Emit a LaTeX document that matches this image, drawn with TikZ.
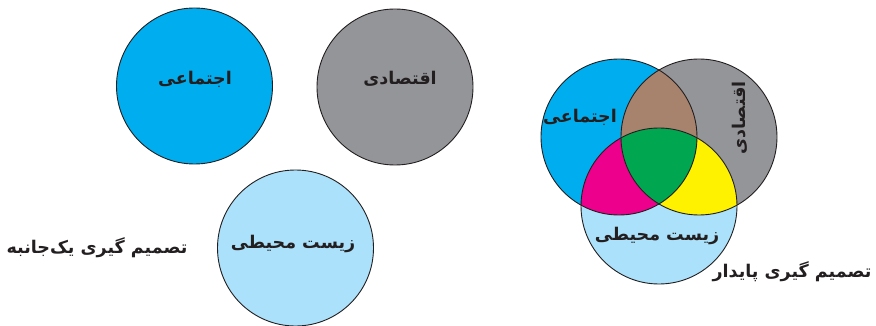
\documentclass[tikz,border=0pt]{standalone}
\usepackage{fontspec}
\newfontfamily\arabicfont[Script=Arabic]{DejaVu Sans}
\TeXXeTstate=1
\definecolor{cblue}{HTML}{00AEEF}
\definecolor{cgray}{HTML}{939598}
\definecolor{clight}{HTML}{ABE1FA}
\definecolor{cbrown}{HTML}{A7836D}
\definecolor{cmag}{HTML}{EC008C}
\definecolor{cyel}{HTML}{FFF200}
\definecolor{cgreen}{HTML}{00A650}
\definecolor{cline}{HTML}{231F20}
\begin{document}
\begin{tikzpicture}[x=1pt,y=-1pt]
\tikzset{
  setc/.style={circle, draw=cline, line width=0.9pt, minimum size=156pt, inner sep=0pt},
  lbl/.style={font=\arabicfont\bfseries\fontsize{17.5}{20}\selectfont, text=cline, inner sep=0pt},
  captxt/.style={font=\arabicfont\bfseries\fontsize{17.5}{20}\selectfont, text=cline, inner sep=0pt}
}
\useasboundingbox (0,0) rectangle (876,326);
% left: separate circles
\node[setc, fill=cblue] (s1) at (194.5,86) {};
\node[setc, fill=cgray] (e1) at (395,87) {};
\node[setc, fill=clight] (n1) at (295.5,248) {};
\node[lbl] (ls1) at (195,79) {\beginR اجتماعی\endR};
\node[lbl] (le1) at (400,79) {\beginR اقتصادی\endR};
\node[lbl] (ln1) at (293,244) {\beginR زیست محیطی\endR};
\node[captxt] (c1) at (97,248) {\beginR تصمیم گیری یک‌جانبه\endR};
% right: overlapping circles
\coordinate (S) at (619,137);
\coordinate (E) at (699,137);
\coordinate (N) at (659,206);
\fill[cblue] (S) circle (78pt);
\fill[cgray] (E) circle (78pt);
\fill[clight] (N) circle (78pt);
\begin{scope}
  \clip (S) circle (78pt);
  \fill[cbrown] (E) circle (78pt);
  \fill[cmag] (N) circle (78pt);
\end{scope}
\begin{scope}
  \clip (E) circle (78pt);
  \fill[cyel] (N) circle (78pt);
  \clip (S) circle (78pt);
  \fill[cgreen] (N) circle (78pt);
\end{scope}
\node[setc] (s2) at (S) {};
\node[setc] (e2) at (E) {};
\node[setc] (n2) at (N) {};
\node[lbl] (ls2) at (580,117) {\beginR اجتماعی\endR};
\node[lbl, rotate=90] (le2) at (740,118) {\beginR اقتصادی\endR};
\node[lbl] (ln2) at (657,236) {\beginR زیست محیطی\endR};
\node[captxt] (c2) at (792,272) {\beginR تصمیم گیری پایدار\endR};
\end{tikzpicture}
\end{document}
